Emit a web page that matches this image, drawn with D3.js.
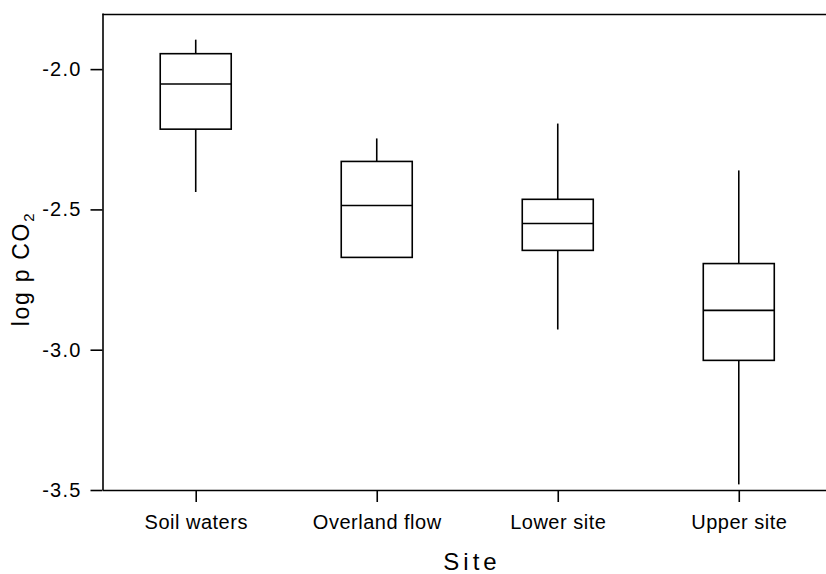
<!DOCTYPE html>
<html>
<head>
<meta charset="utf-8">
<script src="https://cdn.jsdelivr.net/npm/d3@7"></script>
<style>
  html, body { margin: 0; padding: 0; background: #fff; }
  svg { display: block; font-family: "Liberation Sans", Arial, Helvetica, sans-serif; }
</style>
</head>
<body>
<svg id="chart" width="826" height="574"></svg>
<script>
// ---- data ----
const categories = ["Soil waters", "Overland flow", "Lower site", "Upper site"];
const whiskerHigh = [-1.895, -2.247, -2.194, -2.361];
const q3          = [-1.945, -2.329, -2.464, -2.693];
const medians     = [-2.053, -2.486, -2.550, -2.860];
const q1          = [-2.214, -2.671, -2.646, -3.038];
const whiskerLow  = [-2.438, -2.671, -2.928, -3.480];
const yTicks = [-2.0, -2.5, -3.0, -3.5];
const yTickLabels = ["-2.0", "-2.5", "-3.0", "-3.5"];

const rows = categories.map((c, i) => ({
  cat: c, hi: whiskerHigh[i], q3: q3[i], med: medians[i], q1: q1[i], lo: whiskerLow[i]
}));

const svg = d3.select("#chart");
const mLeft = 102.5, mRight = 832, mTop = 13, mBottom = 490;

const y = d3.scaleLinear().domain([-3.5, -1.8]).range([mBottom, mTop]);
const x = d3.scalePoint().domain(categories).range([mLeft, mRight]).padding(0.515);
const boxW = 71;

// top border
svg.append("line")
  .attr("x1", mLeft).attr("x2", mRight).attr("y1", y(-1.8) + 1.5).attr("y2", y(-1.8) + 1.5)
  .attr("stroke", "#000").attr("stroke-width", 1.6);

// y axis
const yAxis = svg.append("g")
  .attr("transform", `translate(${mLeft},0)`)
  .call(d3.axisLeft(y).tickValues(yTicks).tickFormat((d, i) => yTickLabels[i])
    .tickSize(12).tickSizeOuter(0).tickPadding(9));
yAxis.select(".domain").attr("stroke-width", 1.6);
yAxis.selectAll(".tick line").attr("stroke-width", 1.6);
yAxis.selectAll(".tick text").attr("font-size", 20).attr("letter-spacing", 1.2)
  .attr("fill", "#000").attr("font-family", "Liberation Sans, Arial, sans-serif");

// x axis
const xAxis = svg.append("g")
  .attr("transform", `translate(0,${mBottom})`)
  .call(d3.axisBottom(x).tickSize(12).tickSizeOuter(0).tickPadding(13));
xAxis.select(".domain").attr("stroke-width", 1.6);
xAxis.selectAll(".tick line").attr("stroke-width", 1.6);
xAxis.selectAll(".tick text").attr("font-size", 20).attr("letter-spacing", 0.5)
  .attr("fill", "#000").attr("font-family", "Liberation Sans, Arial, sans-serif");

// boxes
const g = svg.append("g").attr("stroke", "#000").attr("stroke-width", 1.6).attr("fill", "none");
const b = g.selectAll("g.box").data(rows).join("g").attr("class", "box");
b.append("line")
  .attr("x1", d => x(d.cat)).attr("x2", d => x(d.cat))
  .attr("y1", d => y(d.hi)).attr("y2", d => y(d.q3));
b.append("line")
  .attr("x1", d => x(d.cat)).attr("x2", d => x(d.cat))
  .attr("y1", d => y(d.q1)).attr("y2", d => y(d.lo));
b.append("rect")
  .attr("x", d => x(d.cat) - boxW / 2).attr("width", boxW)
  .attr("y", d => y(d.q3)).attr("height", d => y(d.q1) - y(d.q3))
  .attr("fill", "#fff");
b.append("line")
  .attr("x1", d => x(d.cat) - boxW / 2).attr("x2", d => x(d.cat) + boxW / 2)
  .attr("y1", d => y(d.med)).attr("y2", d => y(d.med));

// axis titles
svg.append("text")
  .attr("x", 472).attr("y", 570)
  .attr("text-anchor", "middle")
  .attr("font-size", 24).attr("letter-spacing", 4)
  .attr("fill", "#000")
  .text("Site");

const yl = svg.append("text")
  .attr("transform", "translate(28.5,269) rotate(-90)")
  .attr("text-anchor", "middle")
  .attr("fill", "#000")
  .attr("font-size", 23).attr("letter-spacing", 1.7);
yl.append("tspan").text("log p CO");
yl.append("tspan").attr("font-size", 15).attr("dy", 5).text("2");
</script>
</body>
</html>
